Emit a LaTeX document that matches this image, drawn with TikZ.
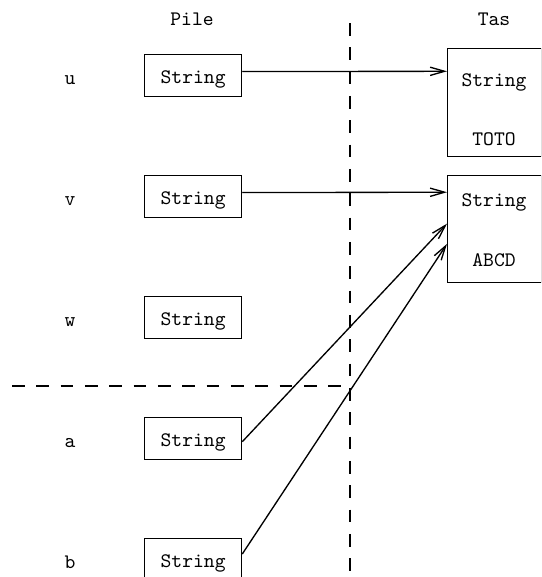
\documentclass[tikz,border=0pt]{standalone}
\usetikzlibrary{calc,arrows.meta}
\begin{document}
\begin{tikzpicture}[x=0.485pt,y=-0.485pt,
  every node/.style={font=\ttfamily},
  lw/.style={line width=0.65pt},
  pilebox/.style={draw,lw,rectangle,inner sep=0pt,minimum width=47pt,
    text height=14.1pt,text depth=6.3pt,anchor=north west},
  tasbox/.style={draw,lw,rectangle,inner sep=0pt,minimum width=45.6pt,anchor=north west},
  txt/.style={anchor=base,inner sep=0pt},
  arr/.style={lw,-{Straight Barb[length=7pt,width=4pt]}},
  sep/.style={lw,dash pattern=on 6.2pt off 5.6pt}]
\clip (0,0) rectangle (541,577);
% headings
\node[txt] (pile) at (192,25) {Pile};
\node[txt] (tas) at (494,25) {Tas};
% separators
\draw[sep] (350,23) -- (350,577);
\draw[sep] (12,386) -- (346,386);
% stack
\foreach \n/\k in {u/0,v/1,w/2,a/3,b/4}{
  \node[txt] (l\n) at (70,{54+121*\k+30}) {\n};
  \node[pilebox] (\n) at (144,{54+121*\k}) {String};
}
% heap
\node[tasbox,minimum height=52.4pt] (tas1) at (447,48) {};
\node[txt] (s1) at (494,86) {String};
\node[txt] (t1) at (494,145) {TOTO};
\node[tasbox,minimum height=51.9pt] (tas2) at (447,175) {};
\node[txt] (s2) at (494,206) {String};
\node[txt] (t2) at (494,266) {ABCD};
% references
\draw[arr] ($(u.north east)!0.405!(u.south east)$) -- ($(tas1.north west)!0.213!(tas1.south west)$);
\draw[arr] ($(v.north east)!0.405!(v.south east)$) -- ($(tas2.north west)!0.159!(tas2.south west)$);
\draw[arr] ($(a.north east)!0.57!(a.south east)$) -- ($(tas2.north west)!0.449!(tas2.south west)$);
\draw[arr] ($(b.north east)!0.37!(b.south east)$) -- ($(tas2.north west)!0.636!(tas2.south west)$);
\end{tikzpicture}
\end{document}
